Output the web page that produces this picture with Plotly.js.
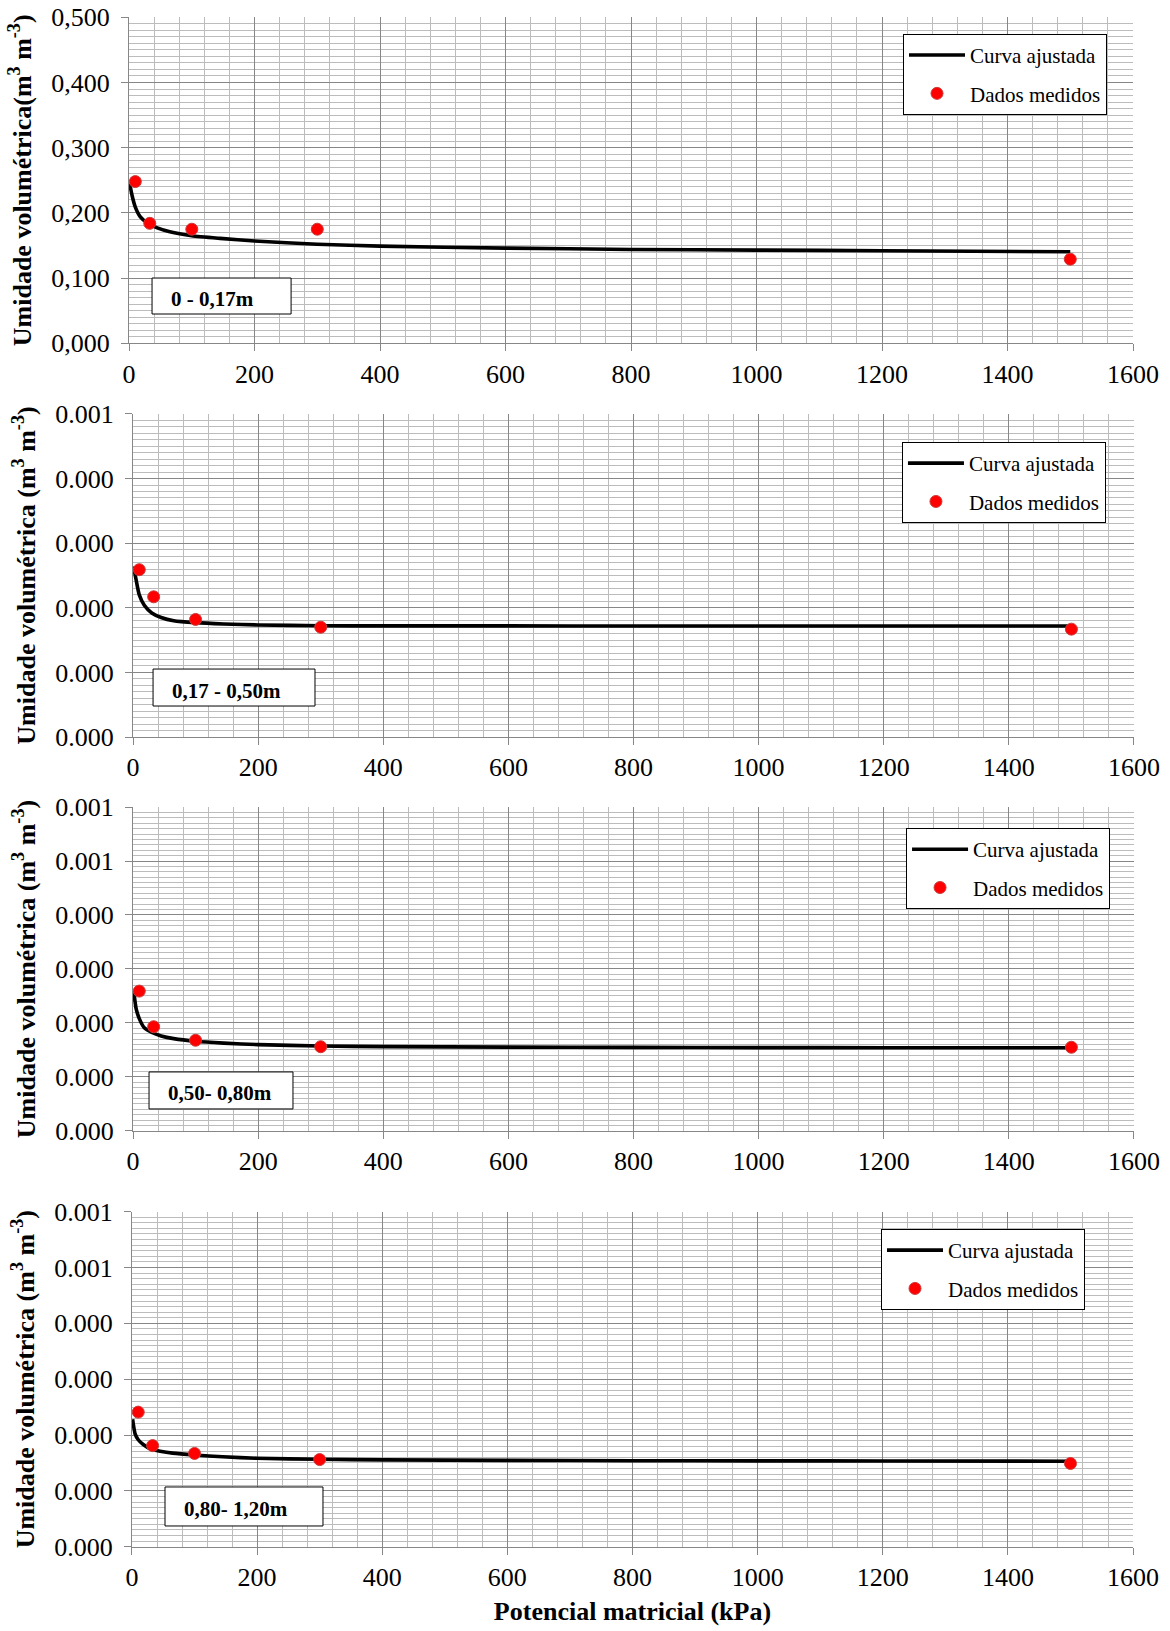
<!DOCTYPE html>
<html><head><meta charset="utf-8">
<script src="https://cdn.plot.ly/plotly-3.0.1.min.js"></script>
<style>html,body{margin:0;padding:0;background:#fff}#chart{width:1170px;height:1631px}</style>
</head><body><div id="chart"></div><script>
// ---- data ----
const pressureMeasured = [10, 33, 100, 300, 1500];
const thetaMeasured1 = [0.248, 0.184, 0.175, 0.175, 0.129];
const thetaMeasured2 = [0.000259, 0.000217, 0.000182, 0.000170, 0.000167];
const thetaMeasured3 = [0.000259, 0.000193, 0.000168, 0.000156, 0.000155];
const thetaMeasured4 = [0.000241, 0.000181, 0.000167, 0.000156, 0.000149];

const curvePressure = [1, 5, 10, 18, 30, 45, 65, 100, 145, 200, 300, 400, 600, 800, 1000, 1200, 1500];
const curveTheta1 = [0.245, 0.226, 0.209, 0.194, 0.184, 0.177, 0.171, 0.165, 0.161, 0.157, 0.152, 0.149, 0.146, 0.144, 0.143, 0.142, 0.1405];
const curveTheta2 = [0.000264, 0.000243, 0.000220, 0.000204, 0.000192, 0.000185, 0.000180, 0.000177, 0.000175, 0.0001735, 0.0001723, 0.000172, 0.000172, 0.0001719, 0.0001719, 0.0001718, 0.0001718];
const curveTheta3 = [0.000260, 0.000226, 0.000208, 0.000191, 0.0001825, 0.000176, 0.000171, 0.0001661, 0.0001627, 0.0001599, 0.0001574, 0.0001562, 0.0001552, 0.0001547, 0.0001544, 0.0001542, 0.000154];
const curveTheta4 = [0.000228, 0.000202, 0.0001915, 0.000183, 0.000175, 0.000171, 0.0001675, 0.0001642, 0.000161, 0.0001583, 0.0001565, 0.0001555, 0.0001545, 0.000154, 0.0001537, 0.0001535, 0.000153];

const depthLabels = ['0 - 0,17m', '0,17 - 0,50m', '0,50- 0,80m', '0,80- 1,20m'];
const seriesNames = ['Curva ajustada', 'Dados medidos'];

const yTickVals1 = [0, 0.1, 0.2, 0.3, 0.4, 0.5];
const yTickText1 = ['0,000', '0,100', '0,200', '0,300', '0,400', '0,500'];
const yTickVals2 = [0, 0.0001, 0.0002, 0.0003, 0.0004, 0.0005];
const yTickText2 = ['0.000', '0.000', '0.000', '0.000', '0.000', '0.001'];
const yTickVals34 = [0, 0.0001, 0.0002, 0.0003, 0.0004, 0.0005, 0.0006];
const yTickText34 = ['0.000', '0.000', '0.000', '0.000', '0.000', '0.001', '0.001'];

const yTitle1 = 'Umidade volumétrica(m<sup>3</sup> m<sup>-3</sup>)';
const yTitleN = 'Umidade volumétrica (m<sup>3</sup> m<sup>-3</sup>)';
const xTitle = 'Potencial matricial (kPa)';

// ---- styling ----
const FONT = 'Liberation Serif, Times New Roman, serif';
const MAJOR = '#878787';
const MINOR = '#bcbcbc';

function xAxis(domain, anchor, withTitle) {
  const ax = {
    domain: domain, anchor: anchor, range: [0, 1600],
    tickmode: 'linear', tick0: 0, dtick: 200,
    showgrid: true, gridcolor: MAJOR, gridwidth: 1,
    minor: {tickmode: 'linear', tick0: 0, dtick: 40, showgrid: true, gridcolor: MINOR, gridwidth: 1, ticks: ''},
    showline: true, linecolor: MAJOR, linewidth: 1,
    ticks: 'outside', ticklen: 7, tickcolor: MAJOR, ticklabelstandoff: 0,
    tickfont: {family: FONT, size: 26, color: '#000'},
    zeroline: false, fixedrange: true
  };
  if (withTitle) {
    ax.title = {text: xTitle, font: {family: FONT, size: 26, color: '#000', weight: 'bold'}, standoff: 10};
  }
  return ax;
}
function yAxis(domain, anchor, maxV, vals, text, title) {
  return {
    domain: domain, anchor: anchor, range: [0, maxV],
    tickmode: 'array', tickvals: vals, ticktext: text,
    showgrid: true, gridcolor: MAJOR, gridwidth: 1,
    minor: {tickmode: 'linear', tick0: 0, dtick: maxV / (vals.length - 1) / 10, showgrid: true, gridcolor: MINOR, gridwidth: 1, ticks: ''},
    showline: true, linecolor: MAJOR, linewidth: 1,
    ticks: 'outside', ticklen: 7, tickcolor: MAJOR, ticklabelstandoff: 6,
    tickfont: {family: FONT, size: 26, color: '#000'},
    title: {text: title, font: {family: FONT, size: 26, color: '#000', weight: 'bold'}, standoff: 12},
    zeroline: false, fixedrange: true
  };
}
function legendAt(x, y) {
  return {x: x, y: y, xanchor: 'left', yanchor: 'top', bgcolor: '#ffffff',
    bordercolor: '#000', borderwidth: 1, font: {family: FONT, size: 21, color: '#000'},
    traceorder: 'grouped', tracegroupgap: 8, itemwidth: 56};
}
// label box: a white framed rectangle plus its bold text, placed in subplot-domain fractions
function labelShape(xr, yr, x0, x1, y0, y1) {
  return {type: 'rect', xref: xr + ' domain', yref: yr + ' domain', x0: x0, x1: x1, y0: y0, y1: y1,
    fillcolor: '#ffffff', line: {color: '#000', width: 1}, layer: 'above'};
}
function labelText(i, xr, yr, x0, yMid) {
  return {text: '<b>' + depthLabels[i] + '</b>', xref: xr + ' domain', yref: yr + ' domain',
    x: x0, y: yMid, xanchor: 'left', yanchor: 'middle', xshift: 17, yshift: -3, showarrow: false,
    font: {family: FONT, size: 21, color: '#000'}};
}
const boxes = [
  {xr: 'x', yr: 'y', x0: 0.0229, x1: 0.1614, y0: 0.0899, y1: 0.2003},
  {xr: 'x2', yr: 'y2', x0: 0.0200, x1: 0.1818, y0: 0.0960, y1: 0.2105},
  {xr: 'x3', yr: 'y3', x0: 0.0160, x1: 0.1598, y0: 0.0679, y1: 0.1821},
  {xr: 'x4', yr: 'y4', x0: 0.0330, x1: 0.1908, y0: 0.0618, y1: 0.1782}
];

const panels = [
  {xa: 'x', ya: 'y', leg: 'legend', curve: curveTheta1, pts: thetaMeasured1},
  {xa: 'x2', ya: 'y2', leg: 'legend2', curve: curveTheta2, pts: thetaMeasured2},
  {xa: 'x3', ya: 'y3', leg: 'legend3', curve: curveTheta3, pts: thetaMeasured3},
  {xa: 'x4', ya: 'y4', leg: 'legend4', curve: curveTheta4, pts: thetaMeasured4}
];
const traces = [];
panels.forEach((p, i) => {
  traces.push({x: curvePressure, y: p.curve, xaxis: p.xa, yaxis: p.ya, legend: p.leg,
    legendgroup: 'c' + i, name: seriesNames[0], mode: 'lines',
    line: {color: '#000', width: 3.6, shape: 'spline', smoothing: 0.6}, hoverinfo: 'skip'});
  traces.push({x: pressureMeasured, y: p.pts, xaxis: p.xa, yaxis: p.ya, legend: p.leg,
    legendgroup: 'm' + i, name: seriesNames[1], mode: 'markers',
    marker: {size: 12, color: '#ff0000', line: {color: '#cc3a3a', width: 1}}, hoverinfo: 'skip'});
});

const layout = {
  width: 1170, height: 1631,
  margin: {l: 0, r: 0, t: 0, b: 0},
  paper_bgcolor: '#fff', plot_bgcolor: '#fff',
  font: {family: FONT, color: '#000'},
  showlegend: true,
  xaxis: xAxis([0.1103, 0.9684], 'y', false),
  yaxis: yAxis([0.7895, 0.9894], 'x', 0.5, yTickVals1, yTickText1, yTitle1),
  xaxis2: xAxis([0.1137, 0.9692], 'y2', false),
  yaxis2: yAxis([0.5481, 0.7462], 'x2', 0.0005, yTickVals2, yTickText2, yTitleN),
  xaxis3: xAxis([0.1137, 0.9692], 'y3', false),
  yaxis3: yAxis([0.3066, 0.5052], 'x3', 0.0006, yTickVals34, yTickText34, yTitleN),
  xaxis4: xAxis([0.1128, 0.9684], 'y4', true),
  yaxis4: yAxis([0.0517, 0.2571], 'x4', 0.0006, yTickVals34, yTickText34, yTitleN),
  legend: legendAt(0.7718, 0.9792),
  legend2: legendAt(0.7709, 0.7290),
  legend3: legendAt(0.7744, 0.4923),
  legend4: legendAt(0.7530, 0.2465),
  shapes: boxes.map(b => labelShape(b.xr, b.yr, b.x0, b.x1, b.y0, b.y1)),
  annotations: boxes.map((b, i) => labelText(i, b.xr, b.yr, b.x0, (b.y0 + b.y1) / 2))
};

Plotly.newPlot('chart', traces, layout, {staticPlot: true, displayModeBar: false});
</script></body></html>
